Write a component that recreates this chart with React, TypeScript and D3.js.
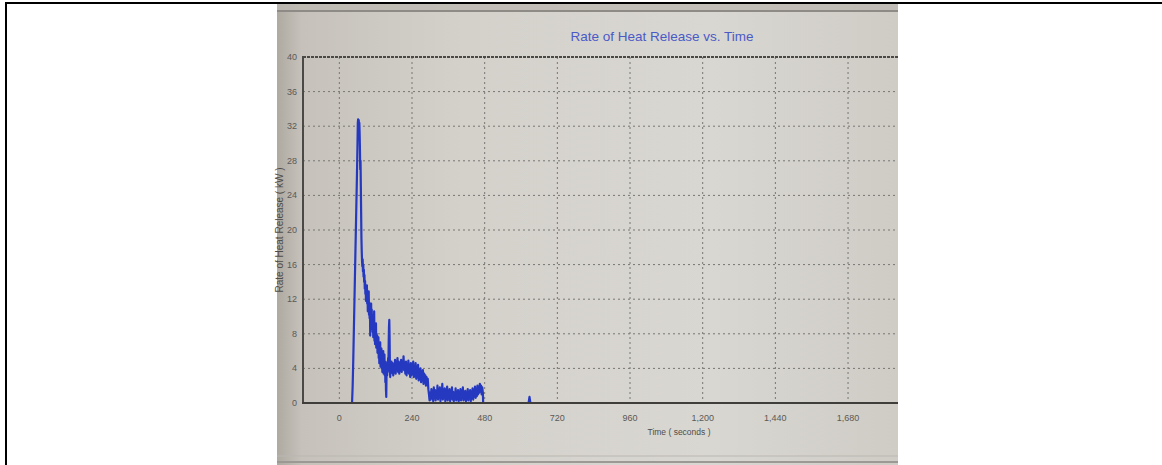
import React from "react";
import * as d3 from "d3";

const chartTitle = "Rate of Heat Release vs. Time";
const xAxisTitle = "Time ( seconds )";
const yAxisTitle = "Rate of Heat Release ( kW )";

const yTicks = [0, 4, 8, 12, 16, 20, 24, 28, 32, 36, 40];
const xTicks = [0, 240, 480, 720, 960, 1200, 1440, 1680];

// [time (s), heat release rate (kW)]
const hrrSeries: [number, number][] = [
  [0, 0], [40, 0], [42, 0], [44, 2], [46, 5], [48, 8.5], [50, 12], [52, 15.5], [54, 19], [56, 22.5],
  [58, 26], [60, 30], [61, 32.4], [62, 32.8], [63, 32.2], [64, 32.7], [65, 31.9], [66, 32.4],
  [67, 31.2], [68, 29.5], [69, 27], [70, 28], [71, 25], [72, 22], [73, 19], [74, 17.5], [75, 16.4],
  [76, 15.8], [77, 16.6], [78, 15.2], [79, 16], [80, 14.6], [81, 15.4], [82, 14],
  [83, 14.8], [84, 13.2], [85, 14.1], [86, 12.6], [87, 13.5], [88, 11.8], [89, 13.2], [90, 12.4],
  [91, 13.6], [92, 11.5], [93, 12.8], [94, 10.6], [95, 12.2], [96, 11], [97, 12.9], [98, 10.2],
  [99, 11.6], [100, 9.8], [101, 11.2], [102, 7.8], [103, 10.5], [104, 9.4], [105, 11.5], [106, 9],
  [107, 10.8], [108, 8.6], [109, 10.2], [110, 8.2], [111, 9.9], [112, 7.6], [113, 9.5], [114, 8],
  [115, 10.6], [116, 7.2], [117, 8.8], [118, 6.8], [119, 8.4], [120, 7.4], [121, 9.2], [122, 6.4],
  [123, 8], [124, 6.9], [125, 7.8], [126, 5.8], [127, 7.2], [128, 6.2], [129, 7.6], [130, 5.2],
  [131, 6.6], [132, 4.6], [133, 6.2], [134, 5.4], [135, 7], [136, 4.2], [137, 5.8], [138, 4.8],
  [139, 6.3], [140, 4], [141, 5.5], [142, 3.6], [143, 5.2], [144, 4.4], [145, 6], [146, 3.4],
  [147, 5], [148, 4.2], [149, 5.6], [150, 3.2], [151, 4.8], [152, 2.4], [153, 4.4], [154, 1.5],
  [155, 0.7], [156, 3.8], [157, 4.6], [158, 3.2], [159, 4.8], [160, 3.6], [161, 5.2], [162, 4],
  [163, 7], [164, 8.8], [165, 9.6], [166, 7.5], [167, 4.2], [168, 3], [169, 4.6], [170, 3.4],
  [172, 4.8], [174, 3.6], [176, 4.6], [178, 3.2], [180, 4.4], [182, 3.6], [184, 5], [186, 3.4],
  [188, 4.6], [190, 3.8], [192, 5.2], [194, 3.6], [196, 4.8], [198, 3.4], [200, 4.4], [202, 3.8],
  [204, 5], [206, 3.6], [208, 4.8], [210, 4], [212, 5.4], [214, 3.8], [216, 4.6], [218, 3.4],
  [220, 4.8], [222, 3.2], [224, 4.4], [226, 3.6], [228, 4.9], [230, 3.4], [232, 4.2], [234, 3],
  [236, 4.6], [238, 3.2], [240, 4.4], [242, 3.4], [244, 4.8], [246, 3], [248, 4], [250, 3.2],
  [252, 4.6], [254, 2.8], [256, 4.2], [258, 3], [260, 4.4], [262, 2.6], [264, 3.8], [266, 2.8],
  [268, 4], [270, 2.4], [272, 3.6], [274, 2.6], [276, 3.8], [278, 2.2], [280, 3.4], [282, 2.4],
  [284, 3.2], [286, 2], [288, 3], [290, 2.2], [292, 2.8], [294, 1.6], [296, 1], [298, 0.3],
  [300, 1.2], [302, 0.4], [304, 1.6], [306, 0.6], [308, 1.4], [310, 0.2], [312, 1.8], [314, 0.8],
  [316, 1.5], [318, 0.3], [320, 1.2], [322, 0.6], [324, 2], [326, 0.4], [328, 1.4], [330, 0.8],
  [332, 1.8], [334, 0.2], [336, 1.2], [338, 0.6], [340, 2.2], [342, 0.4], [344, 1.4], [346, 0.8],
  [348, 1.7], [350, 0.2], [352, 1.3], [354, 0.5], [356, 1.9], [358, 0.3], [360, 1.2], [362, 0.7],
  [364, 1.6], [366, 0.2], [368, 1], [370, 0.5], [372, 1.8], [374, 0.4], [376, 1.3], [378, 0.2],
  [380, 1.1], [382, 0.6], [384, 1.7], [386, 0.3], [388, 1.2], [390, 0.5], [392, 1.5], [394, 0.2],
  [396, 0.9], [398, 0.4], [400, 1.6], [402, 0.3], [404, 1.1], [406, 0.6], [408, 1.8], [410, 0.3],
  [412, 1], [414, 0.5], [416, 1.4], [418, 0.2], [420, 0.9], [422, 0.5], [424, 1.6], [426, 0.3],
  [428, 1.2], [430, 0.6], [432, 1.5], [434, 0.2], [436, 1], [438, 0.6], [440, 1.7], [442, 0.4],
  [444, 1.2], [446, 0.8], [448, 1.9], [450, 0.6], [452, 1.4], [454, 0.8], [456, 2], [458, 1],
  [460, 1.8], [462, 1.2], [464, 2.2], [466, 1.4], [468, 2], [470, 1], [472, 1.8], [474, 1.2],
  [475, 0], [625, 0], [628, 0.7], [631, 0], [1845, 0],
];

export default function App() {
  const photo = { x0: 277, x1: 898, y0: 4, y1: 465 };
  const plot = { left: 303, right: 898, top: 57, bottom: 403 };

  const x = d3.scaleLinear().domain([-120, 1845]).range([plot.left, plot.right]);
  const y = d3.scaleLinear().domain([0, 40]).range([plot.bottom, plot.top]);

  const line = d3
    .line<[number, number]>()
    .x((d) => x(d[0]))
    .y((d) => y(d[1]));

  const fmt = d3.format(",");
  const font = "'Liberation Sans', Arial, sans-serif";

  return (
    <svg
      width={1162}
      height={465}
      style={{ position: "absolute", left: 0, top: 0, display: "block" }}
    >
      <defs>
        <linearGradient id="photoBg" x1="0" x2="1" y1="0" y2="0">
          <stop offset="0" stopColor="#aea9a1" />
          <stop offset="0.04" stopColor="#c6c2bb" />
          <stop offset="0.3" stopColor="#d4d1cb" />
          <stop offset="0.7" stopColor="#d9d7d2" />
          <stop offset="1" stopColor="#cfccc6" />
        </linearGradient>
        <clipPath id="plotClip">
          <rect x={plot.left} y={plot.top - 2} width={plot.right - plot.left} height={plot.bottom - plot.top + 4} />
        </clipPath>
      </defs>

      <rect x={0} y={0} width={1162} height={465} fill="#ffffff" />

      {/* photo of the screen */}
      <rect x={photo.x0} y={photo.y0} width={photo.x1 - photo.x0} height={photo.y1 - photo.y0} fill="url(#photoBg)" />
      <rect x={photo.x0} y={photo.y0} width={photo.x1 - photo.x0} height={6} fill="#bdb9b2" opacity={0.8} />
      <line x1={photo.x0} x2={photo.x1} y1={11} y2={11} stroke="#8e8b86" strokeWidth={2} />
      <line x1={photo.x0} x2={photo.x1} y1={456} y2={456} stroke="#bab7b1" strokeWidth={1} />
      <line x1={photo.x0} x2={photo.x1} y1={462} y2={462} stroke="#9c9994" strokeWidth={2} />

      {/* page frame */}
      <line x1={6} x2={6} y1={2} y2={465} stroke="#000" strokeWidth={2} />
      <line x1={5} x2={1162} y1={3} y2={3} stroke="#000" strokeWidth={2} />

      {/* title */}
      <text x={662} y={41} textAnchor="middle" fontFamily={font} fontSize={13.5} fill="#4a5ac6">
        {chartTitle}
      </text>

      {/* grid */}
      <g clipPath="url(#plotClip)">
        {yTicks
          .filter((t) => t > 0 && t < 40)
          .map((t) => (
            <line key={"gy" + t} x1={plot.left} x2={plot.right} y1={y(t)} y2={y(t)} stroke="#777672" strokeWidth={1} strokeDasharray="2,3" />
          ))}
        {xTicks.map((t) => (
          <line key={"gx" + t} x1={x(t)} x2={x(t)} y1={plot.top} y2={plot.bottom} stroke="#777672" strokeWidth={1} strokeDasharray="2,3" />
        ))}
      </g>

      {/* plot frame */}
      <line x1={plot.left} x2={plot.right} y1={plot.top} y2={plot.top} stroke="#4a4946" strokeWidth={2} strokeDasharray="3,1" />
      <line x1={plot.left} x2={plot.left} y1={plot.top - 1} y2={plot.bottom + 1} stroke="#4a4946" strokeWidth={2} />

      {/* data line */}
      <g clipPath="url(#plotClip)">
        <path d={line(hrrSeries) || ""} fill="none" stroke="#2438c0" strokeWidth={2.2} strokeLinejoin="round" />
      </g>

      <line x1={plot.left - 1} x2={plot.right} y1={plot.bottom} y2={plot.bottom} stroke="#3f3e3b" strokeWidth={2} />

      {/* y tick labels */}
      {yTicks.map((t) => (
        <text key={"ly" + t} x={297} y={y(t) + 3} textAnchor="end" fontFamily={font} fontSize={9} fill="#5b5955">
          {t}
        </text>
      ))}

      {/* x tick labels */}
      {xTicks.map((t) => (
        <text key={"lx" + t} x={x(t)} y={421} textAnchor="middle" fontFamily={font} fontSize={9} fill="#5b5955">
          {fmt(t)}
        </text>
      ))}

      {/* axis titles */}
      <text x={679} y={435} textAnchor="middle" fontFamily={font} fontSize={8.5} fill="#4f4d4a">
        {xAxisTitle}
      </text>
      <text
        transform={`translate(283, 230) rotate(-90)`}
        textAnchor="middle"
        fontFamily={font}
        fontSize={10}
        fill="#4f4d4a"
      >
        {yAxisTitle}
      </text>
    </svg>
  );
}
